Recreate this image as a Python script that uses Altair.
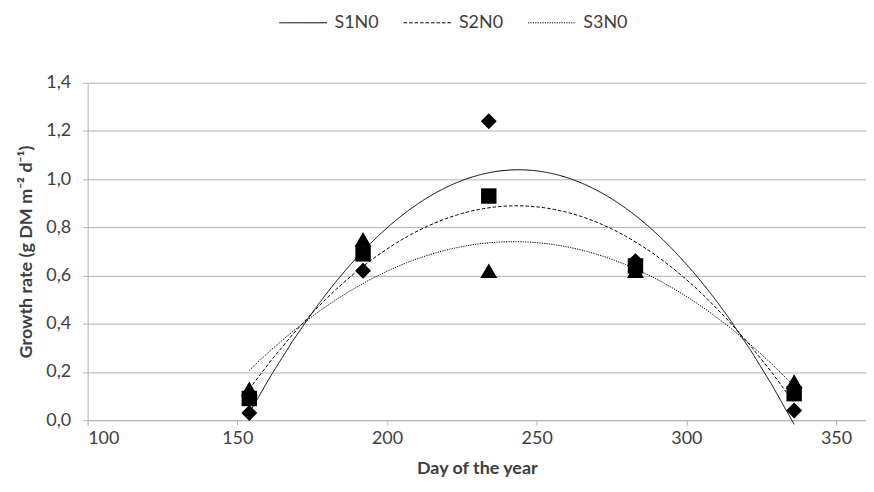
import altair as alt
import pandas as pd

series = ["S1N0", "S2N0", "S3N0"]
days = [154, 192, 234, 283, 336]
s1n0 = [0.03, 0.62, 1.24, 0.66, 0.04]
s2n0 = [0.09, 0.69, 0.93, 0.64, 0.11]
s3n0 = [0.13, 0.75, 0.62, 0.62, 0.16]
marker_shapes = ["diamond", "square", "triangle-up"]
x_ticks = [100, 150, 200, 250, 300, 350]
y_ticks = [0, 0.2, 0.4, 0.6, 0.8, 1.0, 1.2, 1.4]

rows = []
for name, vals in zip(series, [s1n0, s2n0, s3n0]):
    for d, v in zip(days, vals):
        rows.append({"series": name, "day": d, "value": v})
df = pd.DataFrame(rows)

FONT = "Lato"
FS = 18
GRID = "#b3b3b3"
TEXT = "#404040"

x = alt.X("day:Q", scale=alt.Scale(domain=[100, 360], nice=False, zero=False),
          axis=alt.Axis(values=x_ticks, title="Day of the year", grid=False,
                        domainColor=GRID, tickColor=GRID, tickSize=5,
                        labelFont=FONT, labelFontSize=FS, labelColor=TEXT, labelPadding=4,
                        titleFont=FONT, titleFontSize=FS, titleFontWeight="bold",
                        titleColor=TEXT, titlePadding=13))
y = alt.Y("value:Q", scale=alt.Scale(domain=[0, 1.4], nice=False),
          axis=alt.Axis(values=y_ticks, title="Growth rate (g DM m⁻² d⁻¹)",
                        labelExpr="replace(format(datum.value, '.1f'), '.', ',')",
                        gridColor=GRID, domainColor=GRID, tickColor=GRID, tickSize=5,
                        labelFont=FONT, labelFontSize=FS, labelColor=TEXT, labelPadding=12,
                        titleFont=FONT, titleFontSize=FS, titleFontWeight="bold",
                        titleColor=TEXT, titlePadding=10))

lines = alt.Chart(df).transform_regression(
    "day", "value", groupby=["series"], method="poly", order=2, extent=[154, 336]
).mark_line(color="black", strokeWidth=1).encode(
    x=x, y=y,
    strokeDash=alt.StrokeDash("series:N",
        scale=alt.Scale(domain=series, range=[[1, 0], [3.5, 2], [1.2, 1.2]]),
        legend=alt.Legend(title=None, orient="none", direction="horizontal",
                          legendX=192, legendY=-85, symbolType="stroke", padding=0,
                          symbolSize=2304, symbolStrokeWidth=1, symbolStrokeColor="black",
                          labelFont=FONT, labelFontSize=FS, labelColor=TEXT,
                          columnPadding=22, labelOffset=7)),
)

sizes = [256, 240, 290]
point_layers = []
for name, shp, sz in zip(series, marker_shapes, sizes):
    point_layers.append(
        alt.Chart(df).transform_filter(alt.datum.series == name)
        .mark_point(filled=True, color="black", opacity=1, strokeWidth=0, shape=shp, size=sz)
        .encode(x=x, y=y)
    )

chart = alt.layer(lines, *point_layers).properties(
    width=782, height=339,
    padding={"left": 80, "top": 74, "right": 0, "bottom": 60},
    autosize="none",
).configure_view(stroke=None)

chart.save("out.html", embed_options={"renderer": "svg", "actions": False})
